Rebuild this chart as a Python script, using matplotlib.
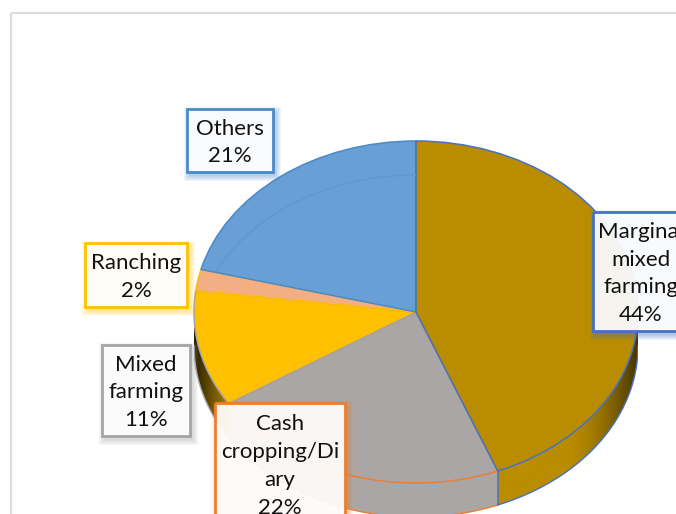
import numpy as np
import matplotlib
matplotlib.use("Agg")
import matplotlib.pyplot as plt
from matplotlib.colors import to_rgb
from matplotlib.patches import Arc, Polygon, Rectangle

W, H = 676, 514

names = ["Marginal\nmixed\nfarming", "Cash\ncropping/Di\nary", "Mixed\nfarming", "Ranching", "Others"]
shares = [44, 22, 11, 2, 21]

fills = ["#BA8C00", "#AAA6A5", "#FFC000", "#F4AE84", "#689FD6"]
walls = ["#BA8C00", "#AAA6A5", "#BF9000", "#F4AE84", "#689FD6"]
edges = ["#4472C4", "#ED7D31", "#A5A5A5", "#FFC000", "#4A8AC8"]

# left, top, right, bottom of each label box in pixels
boxes = [(593, 212, 700, 331), (215, 403, 345, 525), (102, 345, 190, 436),
         (85, 243, 187, 307), (187, 109, 273, 172)]
# the first box runs off the page, its text is centred here instead
text_x = [641, 280, 146, 136, 230]

CX, CY, RX, RY = 416, 312, 222, 171
DEPTH = 34 / RY
LOW = -1.3

plt.rcParams["font.family"] = ["Lato", "DejaVu Sans"]

fig = plt.figure(figsize=(W / 100, H / 100), dpi=100)

# full figure axes in pixel coordinates, for the frame and the labels
page = fig.add_axes([0, 0, 1, 1], zorder=1)
page.set_xlim(0, W)
page.set_ylim(H, 0)
page.axis("off")
page.patch.set_alpha(0)
page.add_patch(Rectangle((11, 13), W + 40, H + 40, fill=False, ec="#DCDCDC", lw=1.6))

# the pie is a circle squashed into this box, with room below for the wall
box_h = RY * (1 - LOW)
ax = fig.add_axes([(CX - RX) / W, 1 - (CY - RY + box_h) / H, 2 * RX / W, box_h / H], zorder=0)
wedges, _ = ax.pie(shares, colors=fills, startangle=90, counterclock=False, radius=1,
                   wedgeprops={"linewidth": 1.1})
ax.set_aspect("auto")
for i, (wedge, edge) in enumerate(zip(wedges, edges)):
    wedge.set_edgecolor(edge)
    wedge.set_zorder(3 + (i - 1) % len(shares))
    wedge.set_clip_on(False)


def shade(x):
    # the wall gets dark towards both sides of the disc
    right = 1 - 0.62 * np.clip((x - 0.68) / 0.32, 0, 1) ** 1.6
    left = 1 - 0.78 * np.clip((-x - 0.8) / 0.2, 0, 1) ** 1.2
    return np.where(x > 0, right, left)


# side wall, angles run clockwise from the top
gradient_x = np.linspace(-1, 1, 445)
stops = np.cumsum([0] + shares) / sum(shares) * 2 * np.pi
for i in range(len(shares)):
    start, end = max(stops[i], np.pi / 2), min(stops[i + 1], 3 * np.pi / 2)
    if start >= end:
        continue
    arc = np.linspace(start, end, 100)
    outline = np.concatenate([
        np.column_stack([np.sin(arc), np.cos(arc)]),
        np.column_stack([np.sin(arc[::-1]), np.cos(arc[::-1]) - DEPTH]),
    ])
    shape = Polygon(outline, closed=True, fc="none", ec="none", transform=ax.transData)
    ax.add_patch(shape)
    colors = np.array(to_rgb(walls[i]))[None, None, :] * shade(gradient_x)[None, :, None]
    image = ax.imshow(colors, extent=(-1, 1, LOW, 1), aspect="auto", zorder=1, interpolation="bilinear")
    image.set_clip_path(shape)
    ax.plot(np.sin(arc), np.cos(arc) - DEPTH, color=edges[i], lw=1.0, zorder=2)

ax.set_aspect("auto")
ax.set_xlim(-1, 1)
ax.set_ylim(LOW, 1)

# seam between the first two slices on the wall
ax.plot([np.sin(stops[1])] * 2, [np.cos(stops[1]), np.cos(stops[1]) - DEPTH],
        color=edges[0], lw=1.1, zorder=2)

# back rim seen through the last slice
rim = Arc((0, -DEPTH), 2, 2, color="#5F98D2", lw=1.0, zorder=9)
ax.add_patch(rim)
rim.set_clip_path(wedges[-1])

for name, share, edge, box, tx in zip(names, shares, edges, boxes, text_x):
    left, top, right, bottom = box
    width, height = right - left, bottom - top
    # soft shadow
    for grow in range(6, 0, -1):
        page.add_patch(Rectangle((left + 3 - grow, top + 4 - grow), width + 2 * grow - 1,
                                 height + 2 * grow - 1, fc=edge, ec="none", alpha=0.08))
    page.add_patch(Rectangle((left, top), width, height, fc="white", ec="none", alpha=0.92))
    page.add_patch(Rectangle((left, top), width, height, fill=False, ec=edge, lw=2))
    page.text(tx, (top + bottom) / 2 + 2, f"{name}\n{share}%", ha="center", va="center",
              fontsize=16, linespacing=1.48, color="#111111", clip_on=True)

fig.savefig("out.png", dpi=100)
